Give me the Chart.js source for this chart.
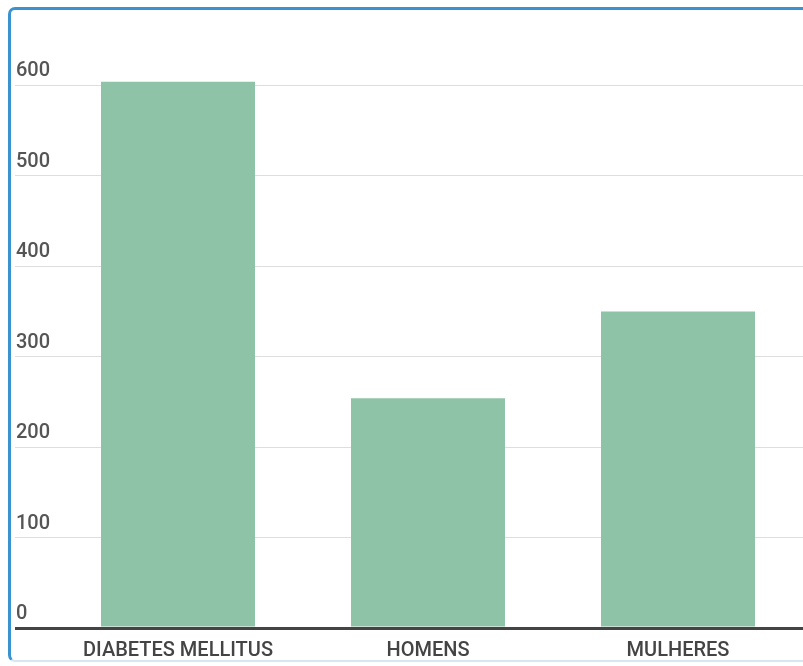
<!DOCTYPE html>
<html>
<head>
<meta charset="utf-8">
<script src="https://cdn.jsdelivr.net/npm/chart.js@4"></script>
<style>
  html, body { margin: 0; padding: 0; background: #fff; }
  #wrap { position: relative; width: 803px; height: 666px; overflow: hidden; }
  #frame {
    position: absolute; left: 8px; top: 7px; width: 900px; height: 655px;
    border-left: 3px solid #3a92cf; border-top: 3px solid #3a92cf;
    border-bottom: 2px solid #d6e7f3;
    border-radius: 7px; box-sizing: border-box;
  }
  canvas { position: absolute; left: 0; top: 0; }
</style>
</head>
<body>
<div id="wrap">
  <div id="frame"></div>
  <canvas id="c" width="803" height="666"></canvas>
</div>
<script>
const categories = ['DIABETES MELLITUS', 'HOMENS', 'MULHERES'];
const casos = [604, 254, 350];
const yTicks = [0, 100, 200, 300, 400, 500, 600];

// the zero line is drawn dark and thick, like the baseline
const isZero = (ctx) => ctx.tick && ctx.tick.value === 0;

new Chart(document.getElementById('c'), {
  type: 'bar',
  data: {
    labels: categories,
    datasets: [{
      data: casos,
      backgroundColor: '#8ec3a7',
      borderWidth: 0,
      categoryPercentage: 1,
      barPercentage: 0.616
    }]
  },
  options: {
    responsive: false,
    animation: false,
    layout: { padding: { left: 15, right: 0, top: 13, bottom: 0 } },
    plugins: { legend: { display: false }, tooltip: { enabled: false } },
    scales: {
      x: {
        afterFit: (axis) => { axis.height = 38; },
        grid: { display: false, drawTicks: false },
        border: { display: true, color: '#444', width: 3 },
        ticks: {
          color: '#444',
          padding: 11,
          font: { family: 'Roboto', size: 20, weight: '500' }
        }
      },
      y: {
        min: 0,
        max: 680,
        afterBuildTicks: (axis) => { axis.ticks = yTicks.map(v => ({ value: v })); },
        afterFit: (axis) => { axis.width = 38; },
        grid: {
          color: (ctx) => isZero(ctx) ? '#444' : '#dedede',
          lineWidth: (ctx) => isZero(ctx) ? 3 : 1,
          drawTicks: true,
          tickLength: 38
        },
        border: { display: false },
        ticks: {
          mirror: true,
          padding: -37,
          labelOffset: -14,
          color: '#555',
          font: { family: 'Roboto', size: 20, weight: '500' }
        }
      }
    }
  }
});
</script>
</body>
</html>
